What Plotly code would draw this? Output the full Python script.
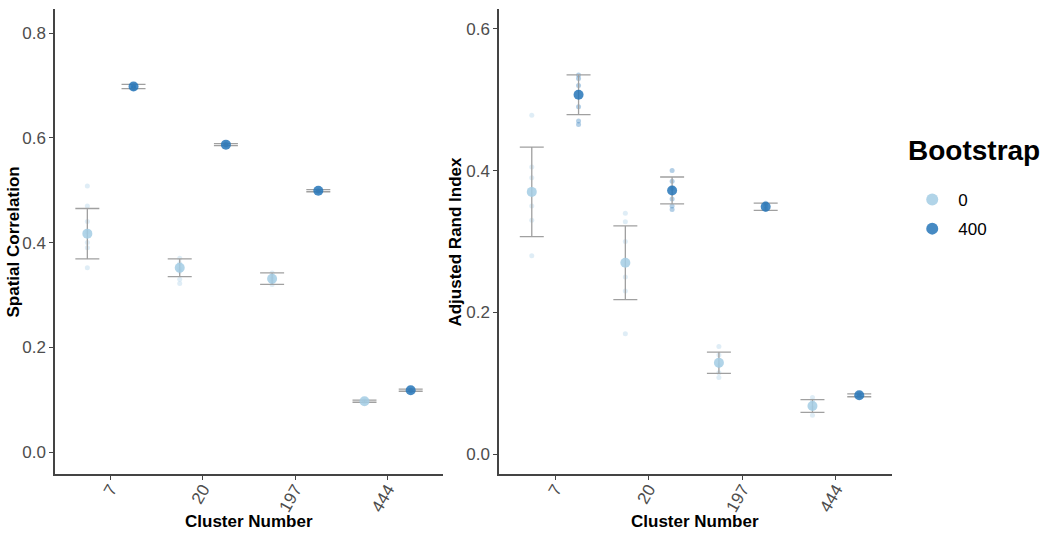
import plotly.graph_objects as go

clusters = ["7", "20", "197", "444"]
boot_levels = ["0", "400"]

# Spatial correlation (left panel)
sc_mean_0 = [0.417, 0.352, 0.331, 0.097]
sc_err_0 = [0.048, 0.017, 0.011, 0.002]
sc_mean_400 = [0.698, 0.587, 0.499, 0.118]
sc_err_400 = [0.004, 0.002, 0.002, 0.002]
sc_pts_0 = [[0.508, 0.47, 0.44, 0.42, 0.40, 0.39, 0.352],
            [0.37, 0.36, 0.35, 0.345, 0.33, 0.322],
            [0.342, 0.335, 0.33, 0.325, 0.32],
            [0.098, 0.096, 0.097]]
sc_pts_400 = [[0.700, 0.698, 0.696, 0.694],
              [0.588, 0.587, 0.586],
              [0.499, 0.498],
              [0.118, 0.117]]

# Adjusted Rand Index (right panel)
ari_mean_0 = [0.370, 0.270, 0.129, 0.068]
ari_err_0 = [0.063, 0.052, 0.015, 0.009]
ari_mean_400 = [0.507, 0.372, 0.349, 0.083]
ari_err_400 = [0.028, 0.019, 0.005, 0.002]
ari_pts_0 = [[0.478, 0.405, 0.39, 0.35, 0.33, 0.28],
             [0.34, 0.328, 0.30, 0.25, 0.23, 0.17],
             [0.152, 0.14, 0.125, 0.115, 0.108],
             [0.08, 0.075, 0.065, 0.055]]
ari_pts_400 = [[0.535, 0.53, 0.52, 0.49, 0.47, 0.465],
               [0.40, 0.385, 0.375, 0.36, 0.35, 0.345],
               [0.354, 0.35, 0.345],
               [0.085, 0.082]]

COL = {"0": "#a3cce4", "400": "#2676b8"}
DODGE = {"0": -0.25, "400": 0.25}
ERR_COL = "#a0a0a0"

fig = go.Figure()

def add_panel(means, errs, pts, level, xa, ya, showlegend):
    xs = [i + DODGE[level] for i in range(len(clusters))]
    px, py = [], []
    for i, arr in enumerate(pts):
        px += [xs[i]] * len(arr)
        py += arr
    fig.add_trace(go.Scatter(x=px, y=py, mode="markers", xaxis=xa, yaxis=ya,
                             marker=dict(color=COL[level], size=5, opacity=0.35),
                             showlegend=False, hoverinfo="skip"))
    fig.add_trace(go.Scatter(x=xs, y=means, mode="markers", xaxis=xa, yaxis=ya,
                             name=level, legendgroup=level, showlegend=showlegend,
                             marker=dict(color=COL[level], size=10, opacity=0.85),
                             error_y=dict(type="data", array=errs, visible=True,
                                          color=ERR_COL, thickness=1.3, width=12)))

add_panel(sc_mean_0, sc_err_0, sc_pts_0, "0", "x", "y", True)
add_panel(sc_mean_400, sc_err_400, sc_pts_400, "400", "x", "y", True)
add_panel(ari_mean_0, ari_err_0, ari_pts_0, "0", "x2", "y2", False)
add_panel(ari_mean_400, ari_err_400, ari_pts_400, "400", "x2", "y2", False)

FONT = "Liberation Sans, Arial, sans-serif"
tickfont = dict(family=FONT, size=17, color="#4d4d4d")
titlefont = dict(family=FONT, size=17, color="black")

xcommon = dict(tickvals=list(range(len(clusters))), ticktext=clusters, range=[-0.6, 3.6],
               showline=True, linecolor="#444444", linewidth=1.5, ticks="outside",
               ticklen=4, tickcolor="#444444", tickangle=-60, tickfont=tickfont,
               showgrid=False, zeroline=False, automargin=False, ticklabelstandoff=-7)
ycommon = dict(showline=True, linecolor="#444444", linewidth=1.5, ticks="outside",
               ticklen=4, tickcolor="#444444", tickfont=tickfont, showgrid=False,
               zeroline=False, tickformat=".1f", dtick=0.2, automargin=False)

annotations = [
    dict(text="<b>Cluster Number</b>", x=0.2318, y=-0.103, xref="paper", yref="paper",
         showarrow=False, font=titlefont, xanchor="center", yanchor="middle"),
    dict(text="<b>Cluster Number</b>", x=0.7646, y=-0.103, xref="paper", yref="paper",
         showarrow=False, font=titlefont, xanchor="center", yanchor="middle"),
    dict(text="<b>Spatial Correlation</b>", x=-0.049, y=0.5, xref="paper", yref="paper",
         showarrow=False, font=titlefont, textangle=-90, xanchor="center", yanchor="middle"),
    dict(text="<b>Adjusted Rand Index</b>", x=0.478, y=0.5, xref="paper", yref="paper",
         showarrow=False, font=titlefont, textangle=-90, xanchor="center", yanchor="middle"),
    dict(text="<b>Bootstrap</b>", x=1.017, y=0.695, xref="paper", yref="paper",
         showarrow=False, font=dict(family=FONT, size=28, color="black"),
         xanchor="left", yanchor="middle"),
]

fig.update_layout(
    width=1050, height=541,
    plot_bgcolor="white", paper_bgcolor="white",
    margin=dict(l=55, r=158, t=9, b=67),
    xaxis=dict(domain=[0, 0.4636], anchor="y", **xcommon),
    xaxis2=dict(domain=[0.5305, 1], anchor="y2", **xcommon),
    yaxis=dict(domain=[0, 1], anchor="x", range=[-0.042, 0.846], **ycommon),
    yaxis2=dict(domain=[0, 1], anchor="x2", range=[-0.028, 0.628], **ycommon),
    annotations=annotations,
    legend=dict(x=1.017, y=0.628, xanchor="left", yanchor="top",
                font=dict(family=FONT, size=17, color="black"), itemsizing="constant",
                itemwidth=42, tracegroupgap=4),
    showlegend=True,
)

fig.write_html("out.html", post_script="document.body.style.margin='0';",
               config={"displayModeBar": False})
